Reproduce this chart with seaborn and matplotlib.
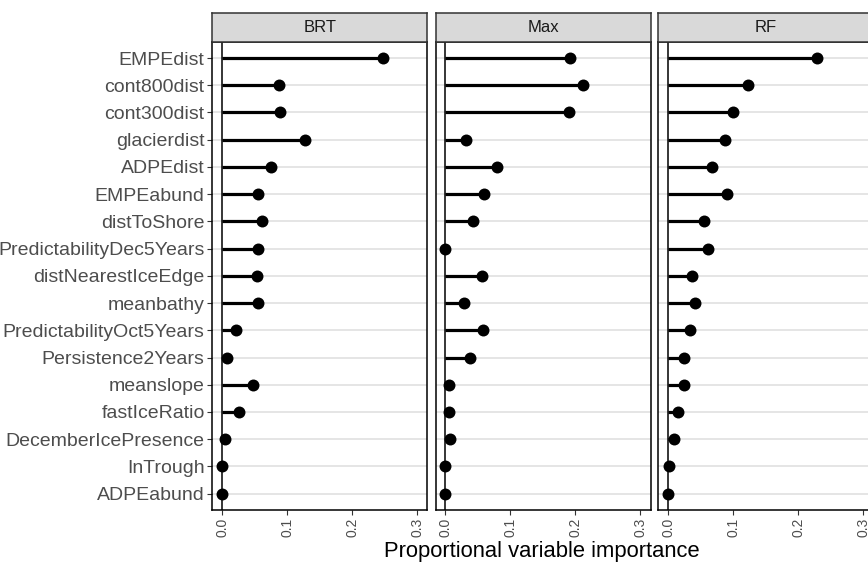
import numpy as np
import pandas as pd
import matplotlib
matplotlib.use("Agg")
import matplotlib.pyplot as plt
import seaborn as sns

# variables, top to bottom
variables = ['EMPEdist', 'cont800dist', 'cont300dist', 'glacierdist', 'ADPEdist',
             'EMPEabund', 'distToShore', 'PredictabilityDec5Years',
             'distNearestIceEdge', 'meanbathy', 'PredictabilityOct5Years',
             'Persistence2Years', 'meanslope', 'fastIceRatio',
             'DecemberIcePresence', 'InTrough', 'ADPEabund']

models = ['BRT', 'Max', 'RF']

brt = [0.247, 0.088, 0.089, 0.127, 0.075, 0.055, 0.062, 0.055, 0.054, 0.055,
       0.021, 0.007, 0.047, 0.026, 0.004, 0.0005, 0.0005]
maxent = [0.192, 0.211, 0.190, 0.032, 0.079, 0.060, 0.043, 0.0, 0.056, 0.028,
          0.057, 0.038, 0.006, 0.006, 0.007, 0.0, 0.0]
rf = [0.229, 0.123, 0.100, 0.088, 0.068, 0.090, 0.056, 0.061, 0.037, 0.041,
      0.034, 0.025, 0.025, 0.016, 0.009, 0.002, 0.0]

x_ticks = [0.0, 0.1, 0.2, 0.3]
x_ticklabels = ['0.0', '0.1', '0.2', '0.3']

df = pd.DataFrame({
    'variable': variables * 3,
    'model': np.repeat(models, len(variables)),
    'importance': brt + maxent + rf,
})

sns.set_theme(style="white")
plt.rcParams['font.family'] = ['Liberation Sans', 'DejaVu Sans']

W, H = 868, 562
fig = plt.figure(figsize=(W / 100, H / 100), dpi=100)

panel_left = [212.3, 435.7, 658.3]
panel_w = 215.0
top, bottom = 41.7, 510.0
strip_top = 13.3

for k, model in enumerate(models):
    sub = df[df['model'] == model]
    l = panel_left[k]
    ax = fig.add_axes([l / W, 1 - bottom / H, panel_w / W, (bottom - top) / H])
    # gridlines for each category
    for i in range(len(variables)):
        ax.axhline(i, color='#DEDEDE', lw=1.1, zorder=0)
    ax.axvline(0, color='black', lw=1.1, zorder=1)
    pos = [variables.index(v) for v in sub['variable']]
    ax.hlines(pos, 0, sub['importance'], color='black', lw=2.3, zorder=2)
    sns.stripplot(data=sub, x='importance', y='variable', order=variables,
                  jitter=False, color='black', size=8.6, linewidth=0,
                  ax=ax, zorder=3)
    ax.set_xlim(-0.015, 0.3157)
    ax.set_ylim(len(variables) - 0.4, -0.6)
    ax.set_xticks(x_ticks)
    ax.set_xticklabels(x_ticklabels, rotation=90, fontsize=10, color='#4D4D4D')
    ax.set_xlabel('')
    ax.set_ylabel('')
    ax.grid(False)
    ax.tick_params(axis='both', length=3.5, width=0.8, color='#333333',
                   direction='out', pad=2, left=True, bottom=True)
    if k == 0:
        ax.set_yticks(range(len(variables)))
        ax.set_yticklabels(variables, fontsize=14.0, color='#4D4D4D')
    else:
        ax.tick_params(axis='y', left=False, labelleft=False)
    for s in ax.spines.values():
        s.set_visible(True)
        s.set_color('black')
        s.set_linewidth(1.1)

    # facet strip
    sax = fig.add_axes([l / W, 1 - top / H, panel_w / W, (top - strip_top) / H])
    sax.set_facecolor('#D9D9D9')
    sax.set_xticks([])
    sax.set_yticks([])
    for s in sax.spines.values():
        s.set_visible(True)
        s.set_color('#333333')
        s.set_linewidth(1.1)
    sax.text(0.5, 0.5, model, ha='center', va='center', fontsize=12,
             color='#1A1A1A', transform=sax.transAxes)

fig.text(542 / W, 1 - 551 / H, 'Proportional variable importance',
         ha='center', va='center', fontsize=15.8, color='black')

fig.savefig('out.png', dpi=100)
